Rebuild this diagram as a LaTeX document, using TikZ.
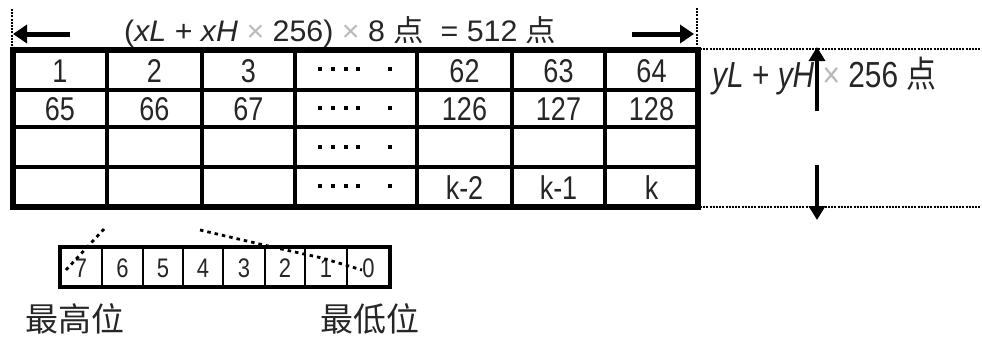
\documentclass[tikz,border=0pt]{standalone}
\usepackage{fontspec}
\usepackage{graphicx}
\setmainfont{Liberation Sans}
\newfontfamily\cjk{Noto Sans CJK SC}
\usetikzlibrary{arrows.meta}
\newcommand{\tallt}[1]{\scalebox{1}[1.22]{#1}}
\tikzset{
  cell/.style={inner sep=0pt, text=black!85, font=\fontsize{27}{27}\selectfont},
  bit/.style={inner sep=0pt, text=black!85, font=\fontsize{22}{22}\selectfont},
  bigarrow/.style={line width=5pt, -{Triangle[length=14pt,width=18pt]}},
  varrow/.style={line width=3.5pt, -{Triangle[length=14pt,width=16pt]}},
  guide/.style={line width=1.8pt, dash pattern=on 2pt off 1.2pt},
  bitdots/.style={line width=2.8pt, dash pattern=on 3.5pt off 4pt},
  frame/.style={line width=6pt},
  grid/.style={line width=4pt},
}
\newcommand{\dotsrow}[1]{%
  \foreach \dx in {320,333,346,358,390}{\fill (\dx-2.4,#1-2.4) rectangle (\dx+2.4,#1+2.4);}}
\begin{document}
\begin{tikzpicture}[x=1pt,y=-1pt]
\useasboundingbox (0,0) rectangle (982,340);
% ---- table grid ----
\foreach \x in {107,202,295,417,512,605}{\draw[grid] (\x,50) -- (\x,207);}
\foreach \y in {90,127,167}{\draw[grid] (13,\y) -- (698,\y);}
\draw[frame] (13,50) rectangle (698,207);
% ---- cells ----
\node[cell] (c11) at (60,71) {\tallt{1}};
\node[cell] (c12) at (154.5,71) {\tallt{2}};
\node[cell] (c13) at (248.5,71) {\tallt{3}};
\node[cell] (c15) at (464.5,71) {\tallt{62}};
\node[cell] (c16) at (558.5,71) {\tallt{63}};
\node[cell] (c17) at (651.5,71) {\tallt{64}};
\node[cell] (c21) at (60,109) {\tallt{65}};
\node[cell] (c22) at (154.5,109) {\tallt{66}};
\node[cell] (c23) at (248.5,109) {\tallt{67}};
\node[cell] (c25) at (464.5,109) {\tallt{126}};
\node[cell] (c26) at (558.5,109) {\tallt{127}};
\node[cell] (c27) at (651.5,109) {\tallt{128}};
\node[cell] (c45) at (464.5,188) {\tallt{k-2}};
\node[cell] (c46) at (558.5,188) {\tallt{k-1}};
\node[cell] (c47) at (651.5,188) {\tallt{k}};
\dotsrow{69}
\dotsrow{108}
\dotsrow{147}
\dotsrow{186}
% ---- top dimension ----
\coordinate (tl0) at (12,9);
\coordinate (tl1) at (12,46);
\coordinate (tr0) at (697,8);
\coordinate (tr1) at (697,46);
\draw[guide] (tl0) -- (tl1);
\draw[guide] (tr0) -- (tr1);
\coordinate (la) at (70,34);
\coordinate (lb) at (13,34);
\coordinate (ra) at (632,34);
\coordinate (rb) at (694,34);
\draw[bigarrow] (la) -- (lb);
\draw[bigarrow] (ra) -- (rb);
\node[anchor=west, inner sep=0pt, text=black!85, font=\fontsize{33}{33}\selectfont] (toplabel) at (124,32)
  {\scalebox{0.92}[0.9]{(\textit{xL} + \textit{xH} {\color{gray!55}×} 256) {\color{gray!55}×} 8 {\cjk 点} \ = 512 {\cjk 点}}};
% ---- right dimension ----
\coordinate (h1a) at (700,49);
\coordinate (h1b) at (982,49);
\coordinate (h2a) at (700,207);
\coordinate (h2b) at (982,207);
\draw[guide] (h1a) -- (h1b);
\draw[guide] (h2a) -- (h2b);
\node[anchor=west, inner sep=0pt, text=black!85, font=\fontsize{29}{29}\selectfont] (sidelabel) at (712,76)
  {\scalebox{1.03}[1.25]{\textit{yL} + \textit{yH} {\color{gray!55}×} 256 {\cjk 点}}};
\coordinate (ua) at (817,111);
\coordinate (ub) at (817,47);
\coordinate (da) at (817,165);
\coordinate (db) at (817,220);
\draw[varrow] (ua) -- (ub);
\draw[varrow] (da) -- (db);
% ---- bit box ----
\foreach \x in {102,143,183,223,265,305,347}{\draw[line width=2.5pt] (\x,247) -- (\x,287);}
\draw[line width=4pt] (60,247) rectangle (390,287);
\node[bit] (b7) at (81,268) {\tallt{7}};
\node[bit] (b6) at (122.5,268) {\tallt{6}};
\node[bit] (b5) at (163,268) {\tallt{5}};
\node[bit] (b4) at (203,268) {\tallt{4}};
\node[bit] (b3) at (244,268) {\tallt{3}};
\node[bit] (b2) at (285,268) {\tallt{2}};
\node[bit] (b1) at (326,268) {\tallt{1}};
\node[bit] (b0) at (368.5,268) {\tallt{0}};
\coordinate (p1) at (66,270);
\coordinate (p2) at (104,229);
\draw[bitdots] (p1) -- (p2);
\coordinate (q1) at (200,230);
\coordinate (q2) at (268,246);
\coordinate (q3) at (322,258);
\coordinate (q4) at (362,270);
\draw[bitdots] (q1) -- (q2) -- (q3) -- (q4);
\node[inner sep=0pt, text=black!85, font=\cjk\fontsize{33}{33}\selectfont] (hi) at (75,319) {最高位};
\node[inner sep=0pt, text=black!85, font=\cjk\fontsize{33}{33}\selectfont] (lo) at (370,319) {最低位};
\end{tikzpicture}
\end{document}
